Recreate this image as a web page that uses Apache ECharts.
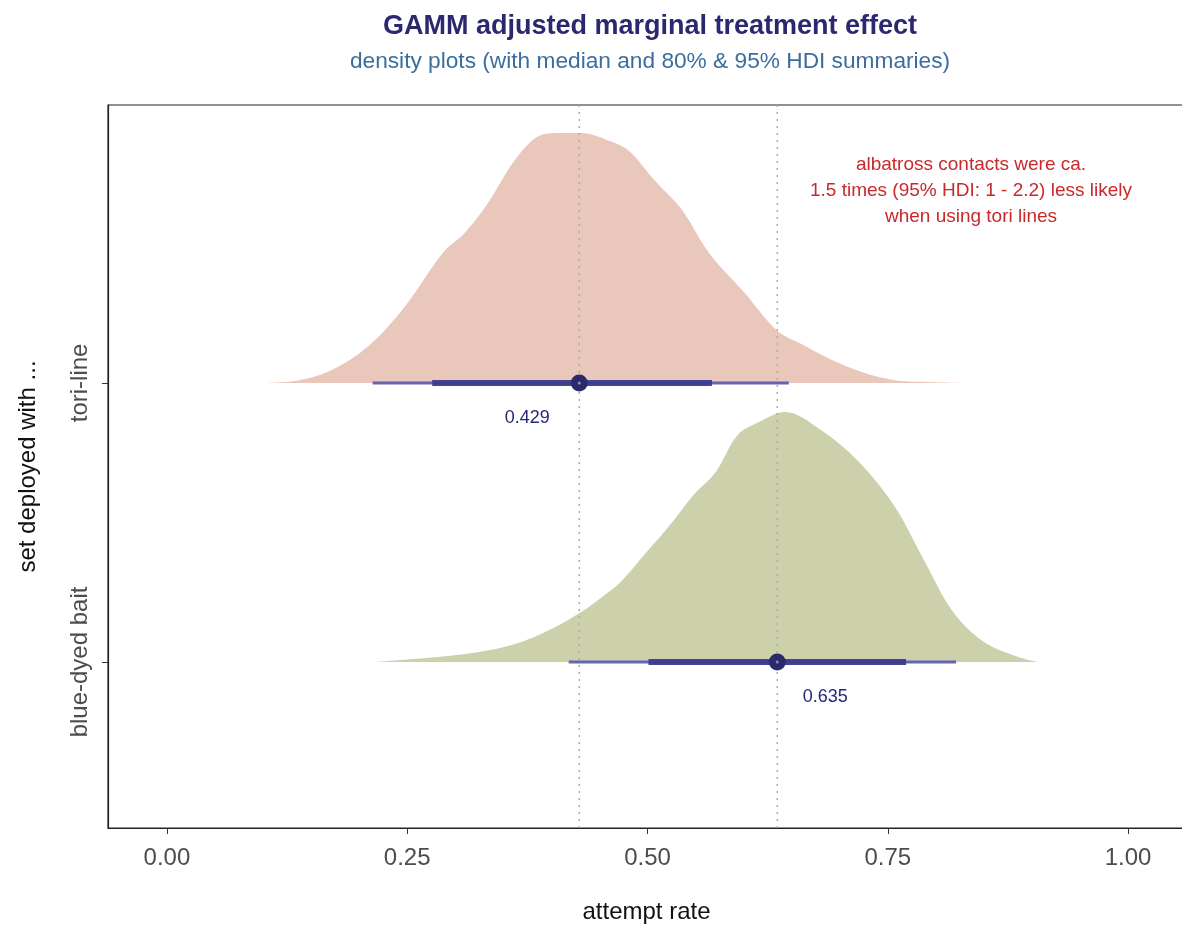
<!DOCTYPE html>
<html>
<head>
<meta charset="utf-8">
<title>GAMM adjusted marginal treatment effect</title>
<script src="https://cdn.jsdelivr.net/npm/echarts@6/dist/echarts.min.js"></script>
<style>
  html, body { margin: 0; padding: 0; background: #fff; overflow: hidden; }
  #chart { width: 1182px; height: 925px; }
</style>
</head>
<body>
<div id="chart"></div>
<script>
'use strict';
// categories (y position of each ridge baseline)
var groups = ['blue-dyed bait', 'tori-line'];
var groupPos = [1, 2];

// tori-line posterior density (x = attempt rate, d = scaled density)
var toriX = [0.100, 0.138, 0.172, 0.210, 0.248, 0.287, 0.310, 0.334, 0.363, 0.387, 0.408, 0.430, 0.463, 0.482, 0.506, 0.535, 0.564, 0.601, 0.634, 0.658, 0.706, 0.754, 0.790, 0.826];
var toriD = [0.000, 0.010, 0.047, 0.133, 0.276, 0.466, 0.538, 0.645, 0.803, 0.885, 0.896, 0.896, 0.864, 0.828, 0.731, 0.624, 0.466, 0.323, 0.190, 0.143, 0.061, 0.011, 0.003, 0.000];

// blue-dyed bait posterior density
var blueX = [0.215, 0.301, 0.359, 0.400, 0.431, 0.450, 0.472, 0.499, 0.526, 0.548, 0.571, 0.594, 0.616, 0.643, 0.679, 0.720, 0.756, 0.787, 0.818, 0.850, 0.886, 0.906];
var blueD = [0.000, 0.025, 0.061, 0.118, 0.179, 0.226, 0.287, 0.394, 0.502, 0.599, 0.681, 0.814, 0.860, 0.896, 0.835, 0.717, 0.563, 0.369, 0.179, 0.072, 0.018, 0.000];

// medians and HDIs  [tori-line, blue-dyed bait]
var medians = [0.429, 0.635];
var hdi95 = [[0.214, 0.647], [0.418, 0.821]];
var hdi80 = [[0.276, 0.567], [0.501, 0.769]];
var medianPos = [2, 1];

var xTicks = [0, 0.25, 0.5, 0.75, 1];

var note = 'albatross contacts were ca.\n1.5 times (95% HDI: 1 - 2.2) less likely\nwhen using tori lines';

function ridge(xs, ds, base) {
  return xs.map(function (x, i) { return [x, base + ds[i]]; });
}

var FONT = '"Liberation Sans", Arial, Helvetica, sans-serif';
var chart = echarts.init(document.getElementById('chart'));

var series = [
  {
    type: 'line', name: 'tori-line', smooth: 0.35, symbol: 'none',
    data: ridge(toriX, toriD, groupPos[1]),
    lineStyle: { width: 0 },
    areaStyle: { color: '#E9C7BB', opacity: 1, origin: groupPos[1] },
    z: 1
  },
  {
    type: 'line', name: 'blue-dyed bait', smooth: 0.35, symbol: 'none',
    data: ridge(blueX, blueD, groupPos[0]),
    lineStyle: { width: 0 },
    areaStyle: { color: '#CDD1AB', opacity: 1, origin: groupPos[0] },
    z: 1
  }
];

// dotted reference lines at the medians
medians.forEach(function (m) {
  series.push({
    type: 'line', symbol: 'none', silent: true,
    data: [[m, 0.405], [m, 2.996]],
    lineStyle: { color: '#ABABAB', width: 1.5, type: [2, 5] },
    z: 2
  });
});

// HDI intervals + median points
medians.forEach(function (m, i) {
  var y = medianPos[i];
  series.push({
    type: 'line', symbol: 'none', silent: true,
    data: [[hdi95[i][0], y], [hdi95[i][1], y]],
    lineStyle: { color: '#5557AC', width: 3, opacity: 0.9 },
    z: 3
  });
  series.push({
    type: 'line', symbol: 'none', silent: true,
    data: [[hdi80[i][0], y], [hdi80[i][1], y]],
    lineStyle: { color: '#3C3B8E', width: 6, opacity: 0.95 },
    z: 4
  });
});

series.push({
  type: 'scatter', symbolSize: 17, silent: true,
  data: medians.map(function (m, i) { return [m, medianPos[i]]; }),
  itemStyle: { color: '#2B2A6C', opacity: 1 },
  z: 5
});
series.push({
  type: 'scatter', symbolSize: 3, silent: true,
  data: medians.map(function (m, i) { return [m, medianPos[i]]; }),
  itemStyle: { color: '#8C8CC0', opacity: 1 },
  z: 6
});

// median value labels
series.push({
  type: 'scatter', symbolSize: 0, silent: true,
  data: medians.map(function (m, i) { return [m, medianPos[i]]; }),
  itemStyle: { opacity: 1 },
  label: {
    show: true,
    formatter: function (p) { return p.value[0].toFixed(3); },
    color: '#26267A', fontSize: 18, fontFamily: FONT,
    position: 'inside'
  },
  labelLayout: function (params) {
    var left = params.dataIndex === 0;
    return {
      x: params.rect.x + (left ? -52 : 48),
      y: params.rect.y + 35,
      align: 'center', verticalAlign: 'middle'
    };
  },
  z: 7
});

chart.setOption({
  animation: false,
  backgroundColor: '#fff',
  title: {
    text: 'GAMM adjusted marginal treatment effect',
    subtext: 'density plots (with median and 80% & 95% HDI summaries)',
    left: 645, textAlign: 'center', top: 8, itemGap: 10,
    textStyle: { fontSize: 27, fontWeight: 'bold', color: '#2B2870', fontFamily: FONT },
    subtextStyle: { fontSize: 22.7, color: '#3A6E9E', fontFamily: FONT }
  },
  grid: {
    left: 108, right: -3, top: 105, bottom: 97,
    outerBoundsMode: 'none', containLabel: false,
    show: true, borderColor: '#222', borderWidth: 1.2, backgroundColor: '#fff'
  },
  xAxis: {
    type: 'value', min: -0.0613, max: 1.0592,
    name: 'attempt rate', nameLocation: 'middle', nameGap: 72,
    nameTextStyle: { fontSize: 24, color: '#111', fontFamily: FONT },
    axisLine: { show: true, onZero: false, lineStyle: { color: '#222', width: 1.2 } },
    axisTick: { show: true, customValues: xTicks, length: 6, lineStyle: { color: '#333' } },
    axisLabel: {
      customValues: xTicks, margin: 18, fontSize: 24, color: '#4D4D4D', fontFamily: FONT,
      formatter: function (v) { return v.toFixed(2); }
    },
    splitLine: { show: false }
  },
  yAxis: {
    type: 'value', min: 0.405, max: 2.996,
    name: 'set deployed with ...', nameLocation: 'middle', nameGap: 68, nameRotate: 90,
    nameTextStyle: { fontSize: 24, color: '#111', fontFamily: FONT },
    axisLine: { show: true, onZero: false, lineStyle: { color: '#222', width: 1.2 } },
    axisTick: { show: true, customValues: groupPos, length: 6, lineStyle: { color: '#333' } },
    axisLabel: {
      customValues: groupPos, rotate: 90, margin: 16, fontSize: 24, color: '#4D4D4D', fontFamily: FONT,
      formatter: function (v) { return groups[groupPos.indexOf(v)]; }
    },
    splitLine: { show: false }
  },
  graphic: [{
    type: 'text', x: 971, y: 152,
    style: {
      text: note, textAlign: 'center', textVerticalAlign: 'top', fill: '#C8292B',
      font: '19px ' + FONT, lineHeight: 26
    }
  }],
  series: series
});
</script>
</body>
</html>
